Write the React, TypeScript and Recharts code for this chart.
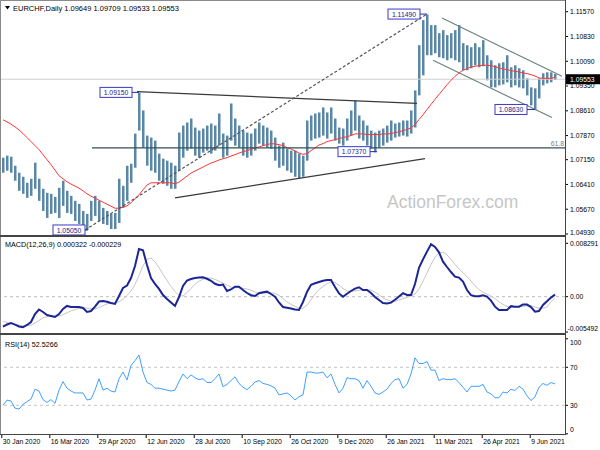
import React from "react";
import { ComposedChart, Bar, Line, XAxis, YAxis, ReferenceLine, ReferenceDot } from "recharts";

// one point every ~2.7 trading days
const highs = [
  1.0721, 1.0727, 1.0724, 1.0697, 1.0676, 1.0664, 1.0646, 1.0658, 1.0706, 1.0658,
  1.0628, 1.0616, 1.0613, 1.0604, 1.0631, 1.0652, 1.0622, 1.0607, 1.0592, 1.0583,
  1.0562, 1.0553, 1.0592, 1.0607, 1.0592, 1.0571, 1.0562, 1.0553, 1.0556, 1.0658,
  1.0637, 1.0697, 1.0703, 1.0793, 1.0915, 1.0862, 1.0787, 1.0781, 1.0772, 1.0733,
  1.0718, 1.0712, 1.0706, 1.0697, 1.0796, 1.0817, 1.0826, 1.0838, 1.0811, 1.0802,
  1.0808, 1.0817, 1.0823, 1.0817, 1.0853, 1.0793, 1.0787, 1.0883, 1.0838, 1.0817,
  1.0802, 1.0796, 1.0793, 1.0808, 1.0826, 1.0817, 1.0811, 1.0802, 1.0781, 1.0757,
  1.0766, 1.0748, 1.0742, 1.0742, 1.0733, 1.0727, 1.0832, 1.0847, 1.0853, 1.0856,
  1.0871, 1.0856, 1.0871, 1.0838, 1.0811, 1.0808, 1.0838, 1.0862, 1.0892, 1.0847,
  1.0832, 1.0817, 1.0802, 1.0796, 1.0802, 1.0808, 1.0817, 1.0832, 1.0823, 1.0826,
  1.0832, 1.0832, 1.0862, 1.0922, 1.1057, 1.1132, 1.1149, 1.1117, 1.1117, 1.1093,
  1.1102, 1.1087, 1.1093, 1.1102, 1.1117, 1.1063, 1.1057, 1.1051, 1.1063, 1.1051,
  1.1072, 1.1027, 1.1012, 1.0997, 1.1003, 1.1006, 1.1027, 1.0991, 1.0997, 1.0988,
  1.0982, 1.0958, 1.0931, 1.0928, 1.0958, 1.0973, 1.0976, 1.0976, 1.0971,
];

const lows = [
  1.0676, 1.0682, 1.0676, 1.0652, 1.0622, 1.0613, 1.0601, 1.0607, 1.0628, 1.0592,
  1.0562, 1.0541, 1.0553, 1.0556, 1.0541, 1.0577, 1.0556, 1.0553, 1.0532, 1.0523,
  1.0514, 1.0505, 1.0532, 1.0547, 1.0532, 1.0523, 1.052, 1.0508, 1.0508, 1.0526,
  1.0571, 1.0592, 1.0646, 1.0691, 1.0802, 1.0751, 1.0697, 1.0682, 1.0676, 1.0652,
  1.0643, 1.0637, 1.0628, 1.0628, 1.0682, 1.0721, 1.0742, 1.0748, 1.0727, 1.0721,
  1.0736, 1.0742, 1.0733, 1.0742, 1.0757, 1.0721, 1.0727, 1.0772, 1.0757, 1.0751,
  1.0727, 1.0721, 1.0727, 1.0742, 1.0763, 1.0757, 1.0751, 1.0748, 1.0712, 1.0691,
  1.0697, 1.0682, 1.0676, 1.0664, 1.0658, 1.0664, 1.0712, 1.0772, 1.0778, 1.0781,
  1.0787, 1.0778, 1.0793, 1.0772, 1.0763, 1.0757, 1.0772, 1.0787, 1.0802, 1.0778,
  1.0772, 1.0757, 1.0748, 1.0737, 1.0751, 1.0757, 1.0766, 1.0772, 1.0781, 1.0784,
  1.0787, 1.0784, 1.0793, 1.0811, 1.0907, 1.0967, 1.1027, 1.1027, 1.1033, 1.1021,
  1.1018, 1.1012, 1.1018, 1.1012, 1.1006, 1.0982, 1.0982, 1.0988, 1.0997, 1.0991,
  1.0994, 1.0952, 1.0931, 1.0931, 1.0937, 1.094, 1.0946, 1.0931, 1.0937, 1.0931,
  1.0928, 1.0907, 1.0877, 1.0863, 1.0898, 1.0937, 1.0943, 1.0946, 1.0953,
];

const movingAvg = [
  1.0834, 1.0828, 1.0821, 1.0813, 1.0804, 1.0793, 1.0781, 1.0769, 1.0757, 1.0745,
  1.073, 1.0715, 1.07, 1.0684, 1.0667, 1.0658, 1.0649, 1.0642, 1.0636, 1.063,
  1.0622, 1.0613, 1.0606, 1.06, 1.0594, 1.0588, 1.0582, 1.0576, 1.057, 1.057,
  1.0573, 1.0577, 1.0586, 1.0598, 1.061, 1.0625, 1.0639, 1.0646, 1.0646, 1.0646,
  1.0646, 1.0646, 1.0646, 1.0643, 1.0648, 1.0657, 1.0666, 1.0675, 1.0681, 1.0687,
  1.0693, 1.0699, 1.0705, 1.0709, 1.0714, 1.0718, 1.0721, 1.0726, 1.073, 1.0735,
  1.0739, 1.0742, 1.0746, 1.075, 1.0753, 1.0757, 1.076, 1.0763, 1.0762, 1.076,
  1.0757, 1.0751, 1.0747, 1.0741, 1.0735, 1.0731, 1.0733, 1.0742, 1.075, 1.0759,
  1.0763, 1.0769, 1.0772, 1.0775, 1.0778, 1.0781, 1.0784, 1.0787, 1.0792, 1.0792,
  1.0792, 1.079, 1.079, 1.079, 1.079, 1.0792, 1.0792, 1.0793, 1.0796, 1.0798,
  1.0802, 1.0805, 1.081, 1.082, 1.0835, 1.0849, 1.0865, 1.088, 1.0895, 1.091,
  1.0924, 1.0939, 1.0952, 1.0964, 1.0974, 1.0982, 1.0987, 1.0992, 1.0994, 1.0996,
  1.0997, 1.0997, 1.0996, 1.0993, 1.0989, 1.0986, 1.0984, 1.0981, 1.0979, 1.0977,
  1.0974, 1.0972, 1.0969, 1.0965, 1.0959, 1.0958, 1.0958, 1.0958, 1.0961,
];

const macdMain = [
  -0.00466, -0.00432, -0.00408, -0.00435, -0.00463, -0.00475, -0.00439, -0.00393, -0.00269, -0.00199,
  -0.00238, -0.00284, -0.003, -0.00315, -0.00269, -0.00191, -0.00144, -0.0016, -0.0016, -0.0016,
  -0.00175, -0.00238, -0.00222, -0.00155, -0.00075, -0.00067, -0.00078, -0.00098, -0.00113, 0.00011,
  0.00135, 0.00174, 0.0029, 0.00477, 0.0074, 0.0072, 0.00492, 0.0029, 0.00197, 0.0012,
  0.00026, -0.00036, -0.0009, -0.00144, -0.00005, 0.00166, 0.00252, 0.00275, 0.0029, 0.00298,
  0.00301, 0.00278, 0.00247, 0.002, 0.00177, 0.00189, 0.00088, 0.00112, 0.00154, 0.00154,
  0.00104, 0.00057, 0.00023, 0.00011, 0.00053, 0.00068, 0.00078, 0.00042, 0.0, -0.0009,
  -0.0016, -0.00171, -0.00183, -0.00199, -0.00206, -0.00082, 0.00073, 0.00186, 0.00208, 0.00228,
  0.00248, 0.00259, 0.00259, 0.00151, 0.00051, 0.0, 0.00045, 0.00088, 0.00126, 0.00146,
  0.00104, 0.00104, 0.00057, -0.00005, -0.00051, -0.00098, -0.00107, -0.00092, -0.00047, 0.00003,
  0.00054, 0.00026, 0.00026, 0.00197, 0.00449, 0.00579, 0.007, 0.00814, 0.00772, 0.00689,
  0.00543, 0.00461, 0.00383, 0.00311, 0.00297, 0.00234, 0.00104, 0.00023, 0.00008, 0.00006,
  0.0002, 0.00002, -0.00062, -0.00155, -0.00206, -0.00206, -0.00206, -0.00147, -0.00157, -0.00155,
  -0.0012, -0.00123, -0.00161, -0.00233, -0.00222, -0.00129, -0.0007, -0.00014, 0.00032,
];

const macdSignal = [
  -0.0038, -0.004, -0.0042, -0.0043, -0.0044, -0.0045, -0.0045, -0.0044, -0.0041, -0.0037,
  -0.0033, -0.0031, -0.003, -0.003, -0.003, -0.0028, -0.0025, -0.0022, -0.002, -0.0018,
  -0.0017, -0.0018, -0.0019, -0.0019, -0.0017, -0.0014, -0.0011, -0.001, -0.001, -0.0008,
  -0.0004, 0.0002, 0.0009, 0.0019, 0.0033, 0.0048, 0.0058, 0.006, 0.0054, 0.0045,
  0.0035, 0.0025, 0.0016, 0.0008, 0.0002, 0.0001, 0.0006, 0.0013, 0.0019, 0.0024,
  0.0027, 0.0029, 0.0029, 0.0027, 0.0024, 0.0021, 0.0018, 0.0015, 0.0014, 0.0014,
  0.0013, 0.0012, 0.001, 0.0007, 0.0005, 0.0005, 0.0006, 0.0006, 0.0005, 0.0002,
  -0.0003, -0.0008, -0.0012, -0.0015, -0.0018, -0.0018, -0.0013, -0.0005, 0.0004, 0.0011,
  0.0016, 0.002, 0.0023, 0.0022, 0.0018, 0.0013, 0.0009, 0.0008, 0.0009, 0.001,
  0.0011, 0.0011, 0.001, 0.0007, 0.0003, -0.0002, -0.0005, -0.0007, -0.0007, -0.0005,
  -0.0003, -0.0001, 0.0001, 0.0004, 0.0012, 0.0024, 0.0037, 0.005, 0.0061, 0.0068,
  0.0069, 0.0065, 0.0058, 0.005, 0.0043, 0.0037, 0.0031, 0.0024, 0.0017, 0.0011,
  0.0007, 0.0004, 0.0001, -0.0003, -0.0008, -0.0012, -0.0015, -0.0016, -0.0016, -0.0016,
  -0.0015, -0.0014, -0.0014, -0.0016, -0.0018, -0.0018, -0.0016, -0.0008, -0.0002,
];

const rsiValues = [
  30, 35.5, 34.5, 27, 26, 31, 34, 36.5, 47, 45,
  36, 33, 36, 32, 46, 55, 48, 45, 43, 43,
  43, 35.6, 36.5, 46, 58, 46, 48, 45, 44, 58,
  65, 56.6, 72, 77, 83, 65, 54, 52, 48, 48,
  47, 46, 45, 46, 55, 63, 58, 62, 59, 57,
  58, 54, 54, 58, 63, 49.6, 52, 56, 60, 53,
  49, 46.5, 50, 54.5, 56, 53, 52, 50.5, 48, 41,
  42, 43, 40, 35.6, 39, 41, 65, 65, 64, 64,
  65, 59, 63, 52, 43, 48, 59, 58, 58, 56,
  48, 56, 50, 43, 41.5, 44, 47, 53, 57, 58,
  48, 52, 63, 80, 74, 74, 76, 67, 67, 56,
  58, 57, 57, 58, 54, 49, 44, 50, 50, 50,
  52, 44, 42, 38, 38, 44, 43, 47, 45.5, 50,
  47, 40, 35, 39, 49, 53, 51, 54, 52.5,
];

const dateLabels = [
  "30 Jan 2020", "16 Mar 2020", "29 Apr 2020", "12 Jun 2020", "28 Jul 2020", "10 Sep 2020",
  "26 Oct 2020", "9 Dec 2020", "26 Jan 2021", "11 Mar 2021", "26 Apr 2021", "9 Jun 2021",
];
const dateTicks = [-0.3, 11.7, 23.7, 35.8, 47.8, 59.8, 71.8, 83.7, 95.8, 107.8, 119.8, 131.8];

const lastPrice = 1.09553;
const priceTicks = [1.1157, 1.1083, 1.1009, 1.0935, 1.0861, 1.0787, 1.0715, 1.0641, 1.0567, 1.0493, lastPrice];
const macdTicks = [0.008291, 0, -0.005492];
const macdTickText = ["0.008291", "0.00", "-0.005492"];
const rsiTicks = [100, 70, 30, 0];

// swing high / low tags drawn on the price panel
const swingTags = [
  { i: 21.25, price: 1.0505, text: "1.05050", gap: 3 },
  { i: 34, price: 1.0916, text: "1.09150", gap: 7 },
  { i: 93.5, price: 1.0739, text: "1.07370", gap: 7 },
  { i: 106, price: 1.115, text: "1.11490", gap: 7 },
  { i: 133, price: 1.0865, text: "1.08630", gap: 8 },
];

// hand drawn trend lines: [start index, start price] -> [end index, end price]
const trendLines = [
  { a: [22.25, 1.075], b: [140.5, 1.075], color: "#34504f", dash: "" },
  { a: [33.5, 1.0918], b: [103.5, 1.0883], color: "#3a3a3a", dash: "" },
  { a: [43, 1.0601], b: [105.5, 1.0718], color: "#3a3a3a", dash: "" },
  { a: [20.5, 1.0505], b: [106, 1.115], color: "#555555", dash: "3 2" },
  { a: [109.75, 1.1138], b: [139.75, 1.0964], color: "#6f8080", dash: "" },
  { a: [107.5, 1.1012], b: [137.25, 1.0841], color: "#6f8080", dash: "" },
];

const FONT = "'Liberation Sans', Arial, sans-serif";
const AXIS_FS = 6.8;
const X_DOMAIN: [number, number] = [-0.5, 140.5];

const rows = highs.map((h, i) => ({
  i,
  range: [lows[i], h],
  ma: movingAvg[i],
  macd: macdMain[i],
  signal: macdSignal[i],
  rsi: rsiValues[i],
}));

function PriceTick(props: any) {
  const { x, y, payload } = props;
  const v = payload.value as number;
  const isLast = v === lastPrice;
  const shift = v === 1.0493 ? -1.5 : 0;
  return (
    <g>
      {!isLast && <line x1={x} x2={x + 3} y1={y} y2={y} stroke="#000" />}
      {isLast && <rect x={x + 1} y={y - 5} width={34} height={10} fill="#000" />}
      <text x={x + 5} y={y + 2.4 + shift} fontSize={AXIS_FS} fontFamily={FONT} fill={isLast ? "#fff" : "#000"}>
        {v.toFixed(5)}
      </text>
    </g>
  );
}

function MacdTick(props: any) {
  const { x, y, payload } = props;
  const k = macdTicks.indexOf(payload.value);
  const shift = k === 2 ? -3 : 0;
  return (
    <g>
      <line x1={x} x2={x + 3} y1={y} y2={y} stroke="#000" />
      <text x={x + (k === 2 ? 2.5 : 5)} y={y + 2.4 + shift} fontSize={AXIS_FS} fontFamily={FONT} fill="#000">
        {macdTickText[k]}
      </text>
    </g>
  );
}

function RsiTick(props: any) {
  const { x, y, payload } = props;
  const v = payload.value as number;
  const shift = v === 100 ? 3.5 : v === 0 ? -4.5 : 0;
  return (
    <g>
      <line x1={x} x2={x + 3} y1={y} y2={y} stroke="#000" />
      <text x={x + 5} y={y + 2.4 + shift} fontSize={AXIS_FS} fontFamily={FONT} fill="#000">
        {v}
      </text>
    </g>
  );
}

function DateTick(props: any) {
  const { x, y, payload } = props;
  const k = dateTicks.indexOf(payload.value);
  return (
    <g>
      <line x1={x} x2={x} y1={y} y2={y + 4} stroke="#000" />
      <text x={x + 1} y={y + 9.5} fontSize={AXIS_FS} fontFamily={FONT} fill="#000">
        {dateLabels[k]}
      </text>
    </g>
  );
}

function SwingTag(props: any) {
  const { cx, cy, text, gap } = props;
  const right = cx - gap;
  return (
    <g>
      <line x1={right} x2={cx} y1={cy} y2={cy} stroke="#2a2a9a" />
      <rect x={right - 32} y={cy - 5} width={32} height={10} fill="#fff" stroke="#3a3acc" />
      <text x={right - 16} y={cy + 2.6} textAnchor="middle" fontSize={AXIS_FS} fontFamily={FONT} fill="#22228a">
        {text}
      </text>
    </g>
  );
}

export default function App() {
  return (
    <div style={{ position: "absolute", left: 0, top: 0, width: 600, height: 450, background: "#fff" }}>
      {/* price panel */}
      <div style={{ position: "absolute", left: 0, top: 0 }}>
        <ComposedChart width={600} height={236} data={rows} margin={{ top: 1, right: 0, bottom: 1, left: 1 }}>
          <XAxis type="number" dataKey="i" domain={X_DOMAIN} hide />
          <YAxis
            orientation="right"
            width={35}
            domain={[1.049, 1.1189]}
            ticks={priceTicks}
            interval={0}
            axisLine={false}
            tickLine={false}
            tickSize={0}
            tickMargin={0}
            tick={<PriceTick />}
          />
          <ReferenceLine y={lastPrice} stroke="#cfcfcf" />
          <Bar dataKey="range" fill="#5a87a5" barSize={2.5} isAnimationActive={false} />
          <Line dataKey="ma" type="linear" stroke="#ff3535" strokeWidth={1} dot={false} isAnimationActive={false} />
          {trendLines.map((t, k) => (
            <ReferenceLine
              key={k}
              segment={[{ x: t.a[0], y: t.a[1] }, { x: t.b[0], y: t.b[1] }]}
              stroke={t.color}
              strokeWidth={1.2}
              strokeDasharray={t.dash}
              ifOverflow="hidden"
            />
          ))}
          {swingTags.map((s, k) => (
            <ReferenceDot
              key={"s" + k}
              x={s.i}
              y={s.price}
              r={1}
              shape={(p: any) => <SwingTag cx={p.cx} cy={p.cy} text={s.text} gap={s.gap} />}
            />
          ))}
        </ComposedChart>
      </div>

      {/* MACD panel */}
      <div style={{ position: "absolute", left: 0, top: 236 }}>
        <ComposedChart width={600} height={98} data={rows} margin={{ top: 1, right: 0, bottom: 1, left: 1 }}>
          <XAxis type="number" dataKey="i" domain={X_DOMAIN} hide />
          <YAxis
            orientation="right"
            width={35}
            domain={[-0.00564, 0.00927]}
            ticks={macdTicks}
            interval={0}
            axisLine={false}
            tickLine={false}
            tickSize={0}
            tickMargin={0}
            tick={<MacdTick />}
          />
          <ReferenceLine y={0} stroke="#bdbdbd" strokeDasharray="3 3" />
          <Line dataKey="signal" type="linear" stroke="#c6c6c6" strokeWidth={1} dot={false} isAnimationActive={false} />
          <Line dataKey="macd" type="linear" stroke="#1c2596" strokeWidth={2} dot={false} isAnimationActive={false} />
        </ComposedChart>
      </div>

      {/* RSI panel */}
      <div style={{ position: "absolute", left: 0, top: 334 }}>
        <ComposedChart width={600} height={116} data={rows} margin={{ top: 1, right: 0, bottom: 0, left: 1 }}>
          <XAxis
            type="number"
            dataKey="i"
            domain={X_DOMAIN}
            ticks={dateTicks}
            interval={0}
            height={16}
            axisLine={false}
            tickLine={false}
            tickSize={0}
            tickMargin={0}
            tick={<DateTick />}
          />
          <YAxis
            orientation="right"
            width={35}
            domain={[-0.2, 104]}
            ticks={rsiTicks}
            interval={0}
            axisLine={false}
            tickLine={false}
            tickSize={0}
            tickMargin={0}
            tick={<RsiTick />}
          />
          <ReferenceLine y={70} stroke="#c4c4c4" strokeDasharray="3 3" />
          <ReferenceLine y={30} stroke="#c4c4c4" strokeDasharray="3 3" />
          <Line dataKey="rsi" type="linear" stroke="#3fa0ff" strokeWidth={1} dot={false} isAnimationActive={false} />
        </ComposedChart>
      </div>

      {/* frames, captions, watermark */}
      <svg width={600} height={450} style={{ position: "absolute", left: 0, top: 0, pointerEvents: "none" }}>
        <rect x={0.5} y={0.5} width={565} height={434} fill="none" stroke="#8a8a8a" />
        <line x1={565.5} x2={565.5} y1={0} y2={435} stroke="#444" />
        <line x1={0} x2={566} y1={236} y2={236} stroke="#444" strokeWidth={2} />
        <line x1={0} x2={566} y1={334} y2={334} stroke="#444" strokeWidth={2} />
        <line x1={0} x2={566} y1={434.5} y2={434.5} stroke="#444" />
        <polygon points="5,6 10,6 7.5,9.5" fill="#000" />
        <text x={13} y={10.5} fontSize={7.5} fontFamily={FONT} fill="#000">
          EURCHF,Daily  1.09649 1.09709 1.09533 1.09553
        </text>
        <text x={5} y={246.5} fontSize={7.2} fontFamily={FONT} fill="#000">
          MACD(12,26,9) 0.000322 -0.000229
        </text>
        <text x={5} y={347} fontSize={7.2} fontFamily={FONT} fill="#000">
          RSI(14) 52.5266
        </text>
        <text x={564} y={145.5} textAnchor="end" fontSize={AXIS_FS} fontFamily={FONT} fill="#6d8090">
          61.8
        </text>
        <text x={387} y={208} fontSize={17.5} fontFamily={FONT} fill="#c6c6c6">
          ActionForex.com
        </text>
      </svg>
    </div>
  );
}
